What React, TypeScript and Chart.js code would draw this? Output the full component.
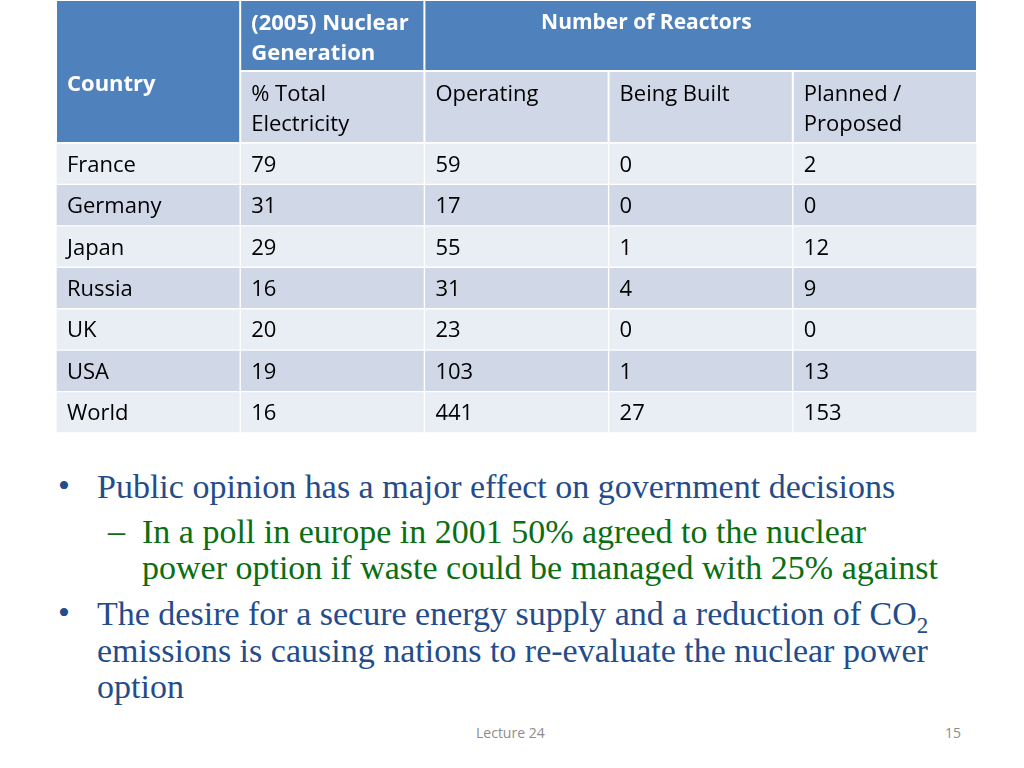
import React, { useEffect, useRef } from "react";
import { Chart, registerables } from "chart.js";

Chart.register(...registerables);

// ---- Data ----
const countries = ["France", "Germany", "Japan", "Russia", "UK", "USA", "World"];
const pctTotalElectricity = [79, 31, 29, 16, 20, 19, 16];
const operating = [59, 17, 55, 31, 23, 103, 441];
const beingBuilt = [0, 0, 1, 4, 0, 1, 27];
const plannedProposed = [2, 0, 12, 9, 0, 13, 153];

const columnHeaders = [["Country"], ["% Total", "Electricity"], ["Operating"], ["Being Built"], ["Planned /", "Proposed"]];
const groupHeaderGeneration = ["(2005) Nuclear", "Generation"];
const groupHeaderReactors = "Number of Reactors";

const columns: (string | number)[][] = [countries, pctTotalElectricity, operating, beingBuilt, plannedProposed];

const BLUE = "#4f81bd";
const LIGHT = "#e9edf4";
const DARK = "#d0d8e8";
const FONT = '"Open Sans", "Liberation Sans", sans-serif';
const FS = 22;

const tablePlugin = {
  id: "tablePlugin",
  beforeDatasetsDraw(chart: any) {
    const ctx = chart.ctx;
    const x = chart.scales.x;
    const area = chart.chartArea;
    const top = area.top - 143;
    const r1 = [top, top + 71];
    const r2 = [top + 71, area.top];
    const cell = (c0: number, c1: number, y0: number, y1: number, color: string) => {
      const a = x.getPixelForValue(c0);
      const b = x.getPixelForValue(c1);
      ctx.fillStyle = color;
      ctx.fillRect(a + 1, y0 + 1, b - a - 2, y1 - y0 - 2);
    };
    ctx.save();
    // header cells
    cell(0, 1, r1[0], r2[1], BLUE);
    cell(1, 2, r1[0], r1[1], BLUE);
    cell(2, 5, r1[0], r1[1], BLUE);
    for (let c = 1; c < 5; c++) cell(c, c + 1, r2[0], r2[1], DARK);

    ctx.textBaseline = "alphabetic";
    ctx.fillStyle = "#ffffff";
    ctx.font = `bold ${FS}px ${FONT}`;
    ctx.textAlign = "left";
    ctx.fillText(columnHeaders[0][0], x.getPixelForValue(0) + 11, top + 91);
    groupHeaderGeneration.forEach((t, i) => ctx.fillText(t, x.getPixelForValue(1) + 11, top + 30 + i * 30));
    ctx.textAlign = "center";
    ctx.font = `bold 21px ${FONT}`;
    ctx.fillText(groupHeaderReactors, x.getPixelForValue(3.205), top + 29);

    ctx.textAlign = "left";
    ctx.fillStyle = "#000000";
    ctx.font = `${FS}px ${FONT}`;
    for (let c = 1; c < 5; c++) {
      columnHeaders[c].forEach((t, i) => ctx.fillText(t, x.getPixelForValue(c) + 11, top + 101 + i * 30));
    }
    ctx.restore();
  },
  afterDatasetsDraw(chart: any) {
    const ctx = chart.ctx;
    const x = chart.scales.x;
    const y = chart.scales.y;
    ctx.save();
    ctx.fillStyle = "#000000";
    ctx.font = `${FS}px ${FONT}`;
    ctx.textAlign = "left";
    ctx.textBaseline = "alphabetic";
    columns.forEach((col, c) => {
      col.forEach((v, r) => {
        ctx.fillText(String(v), x.getPixelForValue(c) + 11, y.getPixelForValue(r) + 8);
      });
    });
    ctx.restore();
  },
};

function TableChart() {
  const ref = useRef<HTMLCanvasElement>(null);
  useEffect(() => {
    if (!ref.current) return;
    const chart = new Chart(ref.current, {
      type: "bar",
      data: {
        labels: countries,
        datasets: columns.map((_, c) => ({
          label: String(c),
          data: countries.map(() => [c, c + 1]) as any,
          backgroundColor: (ctx: any) => (ctx.dataIndex % 2 === 0 ? LIGHT : DARK),
          borderColor: "#ffffff",
          borderWidth: 1,
          borderSkipped: false,
          grouped: false,
          barPercentage: 1,
          categoryPercentage: 1,
        })),
      },
      options: {
        indexAxis: "y",
        responsive: false,
        animation: false,
        events: [],
        layout: { padding: { left: 56, right: 47, top: 143, bottom: 7 } },
        scales: {
          x: { type: "linear", min: 0, max: 5, display: false },
          y: { type: "category", display: false },
        },
        plugins: { legend: { display: false }, tooltip: { enabled: false } },
      } as any,
      plugins: [tablePlugin],
    });
    return () => chart.destroy();
  }, []);
  return <canvas ref={ref} width={1024} height={440} style={{ display: "block" }} />;
}

const SERIF = '"Liberation Serif", "Times New Roman", serif';
const BLUE_TEXT = "#244c8a";
const GREEN_TEXT = "#0a6e12";
const TS = 34;

function Line(props: { left: number; baseline: number; size: number; color: string; children: any }) {
  const { left, baseline, size, color, children } = props;
  return (
    <div
      style={{
        position: "absolute",
        left,
        top: baseline - Math.round(size * 0.8375),
        fontFamily: SERIF,
        fontSize: size,
        lineHeight: `${size}px`,
        color,
        whiteSpace: "nowrap",
      }}
    >
      {children}
    </div>
  );
}

export default function App() {
  return (
    <div style={{ position: "absolute", left: 0, top: 0, width: 1024, height: 768, background: "#fff", overflow: "hidden" }}>
      <TableChart />
      <Line left={58} baseline={497} size={TS} color={BLUE_TEXT}>•</Line>
      <Line left={97} baseline={498} size={TS} color={BLUE_TEXT}>Public opinion has a major effect on government decisions</Line>
      <Line left={108} baseline={542} size={TS} color={GREEN_TEXT}>–</Line>
      <Line left={142} baseline={543} size={TS} color={GREEN_TEXT}>In a poll in europe in 2001 50% agreed to the nuclear</Line>
      <Line left={142} baseline={579} size={TS} color={GREEN_TEXT}>power option if waste could be managed with 25% against</Line>
      <Line left={58} baseline={624} size={TS} color={BLUE_TEXT}>•</Line>
      <Line left={97} baseline={625} size={TS} color={BLUE_TEXT}>
        The desire for a secure energy supply and a reduction of CO
        <span style={{ fontSize: 23, position: "relative", top: 8 }}>2</span>
      </Line>
      <Line left={97} baseline={662} size={TS} color={BLUE_TEXT}>emissions is causing nations to re-evaluate the nuclear power</Line>
      <Line left={97} baseline={698} size={TS} color={BLUE_TEXT}>option</Line>
      <div style={{ position: "absolute", left: 476, top: 724, fontFamily: FONT, fontSize: 14, lineHeight: "18px", color: "#8c8c8c" }}>Lecture 24</div>
      <div style={{ position: "absolute", left: 945, top: 724, fontFamily: FONT, fontSize: 14, lineHeight: "18px", color: "#8c8c8c" }}>15</div>
    </div>
  );
}
